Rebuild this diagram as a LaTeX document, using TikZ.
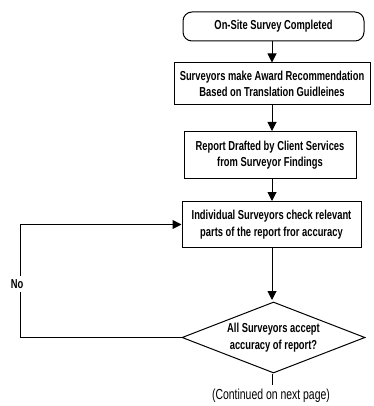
\documentclass[tikz,border=0pt]{standalone}
\usepackage{fontspec}
\setmainfont[FakeStretch=0.72]{Liberation Sans}
\usetikzlibrary{arrows.meta,shapes.geometric}
\begin{document}
\begin{tikzpicture}[x=1pt,y=-1pt,
  line width=1pt,
  proc/.style={draw, rectangle, align=center, inner sep=0pt,
    font=\fontsize{13}{16.5}\selectfont\bfseries},
  term/.style={proc, rounded corners=9pt},
  decide/.style={draw, diamond, aspect=2.6, inner sep=0pt, align=center,
    font=\fontsize{13}{16.5}\selectfont\bfseries},
  flow/.style={-{Triangle[length=9pt,width=9pt]}}]
\useasboundingbox (0,0) rectangle (373,406);

\node[term, minimum width=181pt, minimum height=29pt] (start) at (273.5,26.5)
  {On-Site Survey Completed};
\node[proc, minimum width=196pt, minimum height=42pt] (award) at (272,84)
  {Surveyors make Award Recommendation\\Based on Translation Guidleines};
\node[proc, minimum width=172pt, minimum height=47pt] (draft) at (270,155)
  {Report Drafted by Client Services\\from Surveyor Findings};
\node[proc, minimum width=179pt, minimum height=46pt] (check) at (271.5,224.5)
  {Individual Surveyors check relevant\\parts of the report fror accuracy};
\node[decide, minimum width=183pt, minimum height=71pt] (accept) at (273.5,337.5)
  {All Surveyors accept\\accuracy of report?};

\node[font=\fontsize{14.5}{16}\selectfont] (cont) at (271,396) {(Continued on next page)};
\node[font=\fontsize{13}{15}\selectfont\bfseries] (no) at (17,284) {No};

\coordinate (tail) at (272,385);
\coordinate (loopbot) at (20,337.5);
\coordinate (looptop) at (20,224.5);

\draw[flow] (start.south -| 272,0) -- (award.north -| 272,0);
\draw[flow] (award.south -| 272,0) -- (draft.north -| 272,0);
\draw[flow] (draft.south -| 272,0) -- (check.north -| 272,0);
\draw[flow] (check.south -| 272,0) -- (272,300);
\draw (accept.south -| 272,0) -- (tail);

\draw (accept.west) -- (loopbot) -- (no.south -| loopbot);
\draw[flow] (no.north -| looptop) -- (looptop) -- (check.west);
\end{tikzpicture}
\end{document}
